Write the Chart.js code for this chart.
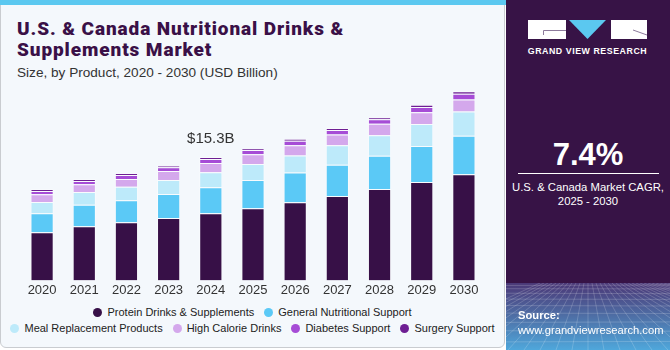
<!DOCTYPE html>
<html>
<head>
<meta charset="utf-8">
<script src="https://cdn.jsdelivr.net/npm/chart.js@4.4.1/dist/chart.umd.min.js"></script>
<style>
  html, body { margin: 0; padding: 0; }
  body { width: 670px; height: 350px; position: relative; overflow: hidden; background: #fff; font-family: "Liberation Sans", Arial, sans-serif; }
  .card { position: absolute; left: 0; top: 0; width: 505px; height: 348px; background: #f4f8fc; border: 1px solid #c9ccd0; border-radius: 0 0 6px 6px; box-sizing: border-box; }
  .stripe { position: absolute; left: 0; top: 0; width: 506px; height: 5px; background: #5bc8f0; }
  .title { position: absolute; left: 17px; top: 18px; font-family: Roboto, sans-serif; font-weight: 900; font-size: 19px; line-height: 21px; letter-spacing: 0.9px; color: #3a1047; }
  .sub { position: absolute; left: 17px; top: 65px; font-size: 13.6px; color: #333; }
  #chartBox { position: absolute; left: 0; top: 83px; width: 500px; height: 220px; }
  .legend { position: absolute; left: 0; width: 505px; text-align: center; font-size: 11px; color: #222; white-space: nowrap; }
  .legend span.item { display: inline-block; margin: 0 5px; }
  .legend span.dot { display: inline-block; width: 9px; height: 9px; border-radius: 50%; margin-right: 5px; vertical-align: -1px; }
  .panel { position: absolute; left: 506px; top: 0; width: 164px; height: 350px; background: #371346; color: #fff; }
  #grid { position: absolute; left: 0; top: 283px; }
  .gvr { position: absolute; left: 0; top: 46px; width: 163px; line-height: 10px; text-align: center; font-size: 8.8px; font-weight: bold; letter-spacing: 0.55px; }
  .cagr { position: absolute; left: 0; top: 137px; width: 164px; text-align: center; font-size: 31px; font-weight: bold; }
  .rule { position: absolute; left: 12px; top: 173px; width: 141px; height: 1px; background: #fff; }
  .cagrTxt { position: absolute; left: 0; top: 180px; width: 164px; text-align: center; font-size: 11.3px; line-height: 14px; white-space: nowrap; }
  .src { position: absolute; left: 12px; top: 308px; font-size: 11.2px; line-height: 15px; white-space: nowrap; }
</style>
</head>
<body>
<div class="card"></div>
<div class="stripe"></div>
<div class="title">U.S. &amp; Canada Nutritional Drinks &amp;<br>Supplements Market</div>
<div class="sub">Size, by Product, 2020 - 2030 (USD Billion)</div>
<div id="chartBox"><canvas id="chart" width="500" height="220"></canvas></div>
<div class="legend" id="leg1" style="top:306px"></div>
<div class="legend" id="leg2" style="top:322px"></div>

<div class="panel">
  <svg width="164" height="44" style="position:absolute;left:0;top:0">
    <rect x="22" y="20" width="38" height="19" fill="#fff"/>
    <polyline points="60,30.5 37.5,30.5 37.5,35" fill="none" stroke="#8d7b9c" stroke-width="1"/>
    <polygon points="63,20 100,20 81.5,39" fill="#5bc8f0"/>
    <rect x="105" y="20" width="36" height="19" fill="#fff"/>
    <line x1="127" y1="30" x2="141" y2="35" stroke="#8d7b9c" stroke-width="1"/>
  </svg>
  <div class="gvr">GRAND VIEW RESEARCH</div>
  <canvas id="grid" width="164" height="67"></canvas>
  <div class="cagr">7.4%</div>
  <div class="rule"></div>
  <div class="cagrTxt">U.S. &amp; Canada Market CAGR,<br>2025 - 2030</div>
  <div class="src"><b>Source:</b><br>www.grandviewresearch.com</div>
</div>

<script>
const years = ['2020', '2021', '2022', '2023', '2024', '2025', '2026', '2027', '2028', '2029', '2030'];

const protein     = [5.96, 6.71, 7.21, 7.75, 8.34, 8.96, 9.71, 10.46, 11.34, 12.21, 13.17];
const general     = [2.38, 2.67, 2.75, 2.96, 3.21, 3.50, 3.67, 3.88, 4.13, 4.46, 4.79];
const meal        = [1.38, 1.58, 1.67, 1.75, 1.88, 2.00, 2.13, 2.42, 2.54, 2.75, 3.00];
const highCalorie = [0.96, 0.96, 0.96, 1.13, 1.13, 1.21, 1.25, 1.33, 1.42, 1.46, 1.50];
const diabetes    = [0.42, 0.42, 0.50, 0.46, 0.50, 0.50, 0.58, 0.58, 0.58, 0.63, 0.71];
const surgery     = [0.21, 0.21, 0.21, 0.17, 0.24, 0.21, 0.25, 0.25, 0.21, 0.29, 0.29];

const seriesNames = ['Protein Drinks & Supplements', 'General Nutritional Support', 'Meal Replacement Products',
  'High Calorie Drinks', 'Diabetes Support', 'Surgery Support'];
const seriesColors = ['#371047', '#5bc9f6', '#bdeafa', '#d4a8ec', '#a64cd6', '#6e1e93'];
const seriesData = [protein, general, meal, highCalorie, diabetes, surgery];

// only 2024 carries a total label
const labelYear = '2024';
const labelText = '$15.3B';

const totalLabel = {
  id: 'totalLabel',
  afterDatasetsDraw(chart) {
    const idx = years.indexOf(labelYear);
    const total = seriesData.reduce((s, arr) => s + arr[idx], 0);
    const x = chart.scales.x.getPixelForValue(idx);
    const y = chart.scales.y.getPixelForValue(total);
    const ctx = chart.ctx;
    ctx.save();
    ctx.font = '15px "Liberation Sans", Arial, sans-serif';
    ctx.fillStyle = '#333';
    ctx.textAlign = 'center';
    ctx.textBaseline = 'alphabetic';
    ctx.fillText(labelText, x, y - 14);
    ctx.restore();
  }
};

new Chart(document.getElementById('chart'), {
  type: 'bar',
  data: {
    labels: years,
    datasets: seriesData.map((d, i) => ({
      label: seriesNames[i],
      data: d,
      backgroundColor: seriesColors[i],
      borderColor: 'rgba(255,255,255,0.45)',
      borderWidth: 1,
      barPercentage: 0.55,
      categoryPercentage: 1
    }))
  },
  options: {
    responsive: false,
    animation: false,
    layout: { padding: { left: 21, right: 15, top: 4, bottom: 3 } },
    plugins: { legend: { display: false }, tooltip: { enabled: false } },
    scales: {
      x: {
        stacked: true,
        grid: { display: false, drawTicks: false, tickLength: 0 },
        border: { display: false },
        ticks: { color: '#333', font: { size: 13, family: '"Liberation Sans", Arial, sans-serif' }, padding: 2 }
      },
      y: { stacked: true, display: false, min: 0, max: 24 }
    }
  },
  plugins: [totalLabel]
});

// html legend, two rows
function legendRow(el, ids) {
  el.innerHTML = ids.map(i =>
    '<span class="item"><span class="dot" style="background:' + seriesColors[i] + '"></span>' +
    seriesNames[i].replace('&', '&amp;') + '</span>').join('');
}
legendRow(document.getElementById('leg1'), [0, 1]);
legendRow(document.getElementById('leg2'), [2, 3, 4, 5]);

// textured footer of the side panel
(function () {
  const c = document.getElementById('grid');
  const g = c.getContext('2d');
  const grad = g.createLinearGradient(0, 0, 0, 67);
  grad.addColorStop(0, '#4b3877');
  grad.addColorStop(0.5, '#4e6fa6');
  grad.addColorStop(1, '#4fa7db');
  g.fillStyle = grad;
  g.fillRect(0, 0, 164, 67);
  g.strokeStyle = 'rgba(255,255,255,0.18)';
  g.lineWidth = 1;
  for (let i = -12; i < 24; i++) {
    g.beginPath();
    g.moveTo(82 + i * 4, 0);
    g.lineTo(82 + i * 16, 67);
    g.stroke();
  }
  let y = 2, step = 3;
  while (y < 67) {
    g.beginPath();
    g.moveTo(0, y + Math.sin(y) * 0.5);
    g.lineTo(164, y);
    g.stroke();
    step += 0.9;
    y += step;
  }
})();
</script>
</body>
</html>
